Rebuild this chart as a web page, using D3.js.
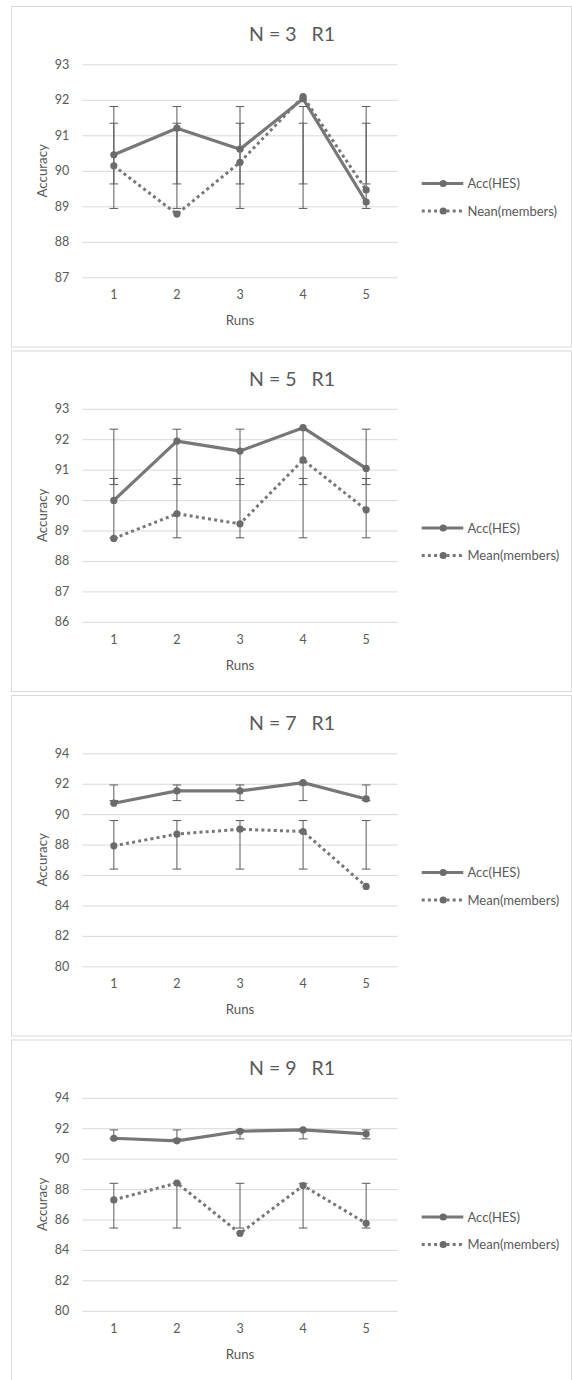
<!DOCTYPE html>
<html>
<head>
<meta charset="utf-8">
<script src="https://cdn.jsdelivr.net/npm/d3@7"></script>
<style>
  body { margin: 0; background: #fff; }
  text { font-family: Lato, 'Open Sans', sans-serif; fill: #595959; }
</style>
</head>
<body>
<svg id="chart" width="572" height="1380"></svg>
<script>
/* global d3 */
'use strict';

var runs = [1, 2, 3, 4, 5];
var titles = ['N = 3   R1', 'N = 5   R1', 'N = 7   R1', 'N = 9   R1'];
var hesNames = ['Acc(HES)', 'Acc(HES)', 'Acc(HES)', 'Acc(HES)'];
var memberNames = ['Nean(members)', 'Mean(members)', 'Mean(members)', 'Mean(members)'];

var accN3  = [90.45, 91.20, 90.61, 92.03, 89.12];
var meanN3 = [90.14, 88.78, 90.24, 92.09, 89.46];
var accN5  = [89.99, 91.94, 91.61, 92.38, 91.04];
var meanN5 = [88.74, 89.55, 89.22, 91.32, 89.68];
var accN7  = [90.72, 91.53, 91.53, 92.07, 91.00];
var meanN7 = [87.92, 88.69, 89.01, 88.86, 85.25];
var accN9  = [91.34, 91.17, 91.80, 91.89, 91.63];
var meanN9 = [87.29, 88.40, 85.09, 88.23, 85.75];

// error bars [low, high], the same at every run
var accErrN3  = [89.63, 91.81];
var meanErrN3 = [88.94, 91.34];
var accErrN5  = [90.51, 92.33];
var meanErrN5 = [88.76, 90.71];
var accErrN7  = [90.89, 91.92];
var meanErrN7 = [86.39, 89.58];
var accErrN9  = [91.30, 91.89];
var meanErrN9 = [85.44, 88.38];

var ticksN3 = [87, 88, 89, 90, 91, 92, 93];
var ticksN5 = [86, 87, 88, 89, 90, 91, 92, 93];
var ticksN7 = [80, 82, 84, 86, 88, 90, 92, 94];
var ticksN9 = [80, 82, 84, 86, 88, 90, 92, 94];

var panels = [
    { acc: accN3, mean: meanN3, accErr: accErrN3, meanErr: meanErrN3, ticks: ticksN3 },
    { acc: accN5, mean: meanN5, accErr: accErrN5, meanErr: meanErrN5, ticks: ticksN5 },
    { acc: accN7, mean: meanN7, accErr: accErrN7, meanErr: meanErrN7, ticks: ticksN7 },
    { acc: accN9, mean: meanN9, accErr: accErrN9, meanErr: meanErrN9, ticks: ticksN9 }
];
var panelTops = [6.5, 351, 695.5, 1040];

var lineColor = '#777777';
var dotColor = '#6b6b6b';
var errColor = '#5a5a5a';

var svg = d3.select('#chart');

function drawPanel(i) {
    var p = panels[i];
    var g = svg.append('g').attr('transform', 'translate(0,' + panelTops[i] + ')');

    g.append('rect')
        .attr('x', 11.5).attr('y', 0)
        .attr('width', 560).attr('height', 340.5)
        .attr('fill', '#fff')
        .attr('stroke', '#d9d9d9');

    g.append('text')
        .attr('x', 292).attr('y', 34.5)
        .attr('text-anchor', 'middle')
        .attr('font-size', '19.5px')
        .style('white-space', 'pre')
        .text(titles[i]);

    var plot = g.append('g').attr('transform', 'translate(82.3,57.8)');
    var w = 315.4, h = 213;

    var x = d3.scaleBand().domain(runs).range([0, w]);
    var y = d3.scaleLinear()
        .domain([p.ticks[0], p.ticks[p.ticks.length - 1]])
        .range([h, 0]);
    var cx = function(d) { return x(d) + x.bandwidth() / 2; };

    // gridlines + y labels
    var yAxis = d3.axisLeft(y).tickValues(p.ticks).tickFormat(d3.format('d'))
        .tickSize(-w).tickPadding(13);
    var ya = plot.append('g').call(yAxis);
    ya.select('.domain').remove();
    ya.selectAll('line').attr('stroke', '#d9d9d9');
    ya.selectAll('text').attr('font-size', '12.5px').attr('fill', '#595959')
        .attr('font-family', 'Lato, sans-serif');

    // x labels
    var xAxis = d3.axisBottom(x).tickSize(0).tickPadding(13);
    var xa = plot.append('g').attr('transform', 'translate(0,' + h + ')').call(xAxis);
    xa.select('.domain').remove();
    xa.selectAll('text').attr('font-size', '12.5px').attr('fill', '#595959')
        .attr('font-family', 'Lato, sans-serif');

    // axis titles
    g.append('text')
        .attr('transform', 'translate(47,' + (57.8 + h / 2) + ') rotate(-90)')
        .attr('text-anchor', 'middle')
        .attr('font-size', '13.3px')
        .text('Accuracy');
    g.append('text')
        .attr('x', 82.3 + w / 2).attr('y', 318.5)
        .attr('text-anchor', 'middle')
        .attr('font-size', '13.3px')
        .text('Runs');

    var line = d3.line()
        .x(function(d, j) { return cx(runs[j]); })
        .y(function(d) { return y(d); });

    plot.append('path')
        .datum(p.mean)
        .attr('d', line)
        .attr('fill', 'none')
        .attr('stroke', lineColor)
        .attr('stroke-width', 3)
        .attr('stroke-dasharray', '3,3.2');

    plot.append('path')
        .datum(p.acc)
        .attr('d', line)
        .attr('fill', 'none')
        .attr('stroke', lineColor)
        .attr('stroke-width', 3.2)
        .attr('stroke-linejoin', 'round');

    // error bars
    [p.accErr, p.meanErr].forEach(function(err) {
        var eb = plot.append('g').selectAll('g').data(runs).enter().append('g');
        eb.append('line')
            .attr('x1', cx).attr('x2', cx)
            .attr('y1', y(err[0])).attr('y2', y(err[1]))
            .attr('stroke', errColor).attr('stroke-width', 1);
        err.forEach(function(v) {
            eb.append('line')
                .attr('x1', function(d) { return cx(d) - 4.3; })
                .attr('x2', function(d) { return cx(d) + 4.3; })
                .attr('y1', y(v)).attr('y2', y(v))
                .attr('stroke', errColor).attr('stroke-width', 1);
        });
    });

    [p.mean, p.acc].forEach(function(series) {
        plot.append('g').selectAll('circle')
            .data(series).enter().append('circle')
            .attr('cx', function(d, j) { return cx(runs[j]); })
            .attr('cy', function(d) { return y(d); })
            .attr('r', 3.6)
            .attr('fill', dotColor);
    });

    // legend
    var leg = g.append('g').attr('transform', 'translate(421.7,0)');
    var rows = [
        { name: hesNames[i], dash: null, yy: 177 },
        { name: memberNames[i], dash: '3,3.2', yy: 204.5 }
    ];
    rows.forEach(function(r) {
        leg.append('line')
            .attr('x1', 0).attr('x2', 41.6)
            .attr('y1', r.yy).attr('y2', r.yy)
            .attr('stroke', lineColor)
            .attr('stroke-width', 3)
            .attr('stroke-dasharray', r.dash);
        leg.append('circle')
            .attr('cx', 21.5).attr('cy', r.yy).attr('r', 3.6)
            .attr('fill', dotColor);
        leg.append('text')
            .attr('x', 45.8).attr('y', r.yy)
            .attr('dy', '0.35em')
            .attr('font-size', '13px')
            .text(r.name);
    });
}

for (var i = 0; i < panels.length; i++) {
    drawPanel(i);
}
</script>
</body>
</html>
